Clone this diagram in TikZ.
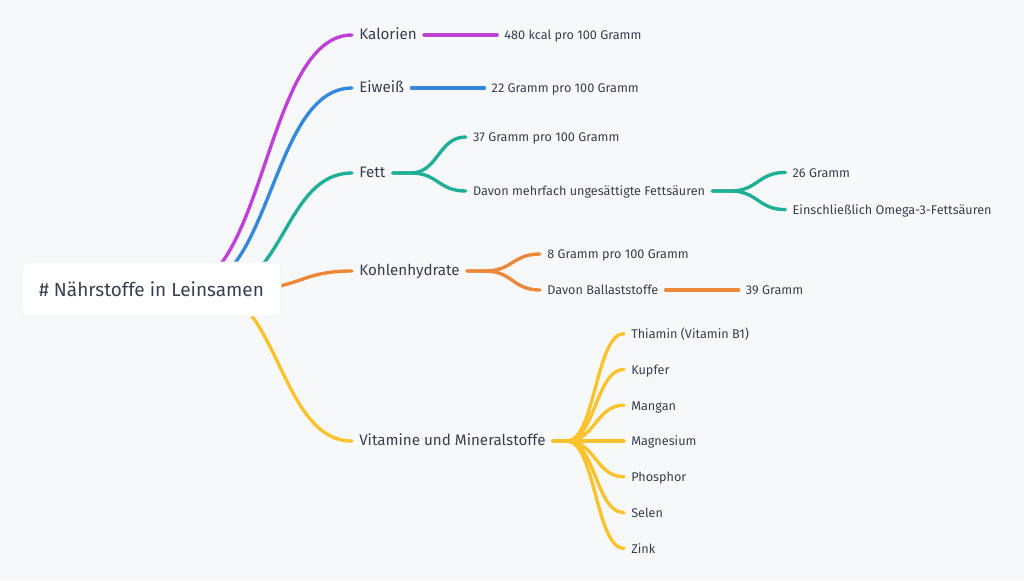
\documentclass[tikz,border=0pt]{standalone}
\usepackage{fontspec}
\setmainfont{Fira Sans}
\usepackage{xcolor}
\usepackage{tikz}
\usetikzlibrary{positioning, calc, backgrounds}
\definecolor{cbg}{RGB}{247,248,250}
\definecolor{ctext}{RGB}{55,64,78}
\definecolor{cborder}{RGB}{236,238,241}
\definecolor{cmagenta}{RGB}{191,64,214}
\definecolor{cblue}{RGB}{52,137,219}
\definecolor{cteal}{RGB}{32,175,150}
\definecolor{corange}{RGB}{237,135,58}
\definecolor{cyellow}{RGB}{250,195,45}

\begin{document}
\begin{tikzpicture}[
    x=0.025cm, y=-0.025cm,
    branch/.style={line width=2.4pt, line cap=round},
    topic/.style={text=ctext, font=\fontsize{10.8}{13}\selectfont, inner xsep=0.175cm, inner ysep=0pt, text height=0.9em, text depth=0.2em},
    leaf/.style={text=ctext, font=\fontsize{9}{11}\selectfont, inner xsep=0.175cm, inner ysep=0pt, text height=0.9em, text depth=0.2em},
    rootbox/.style={fill=white, draw=cborder, line width=0.5pt, rounded corners=4pt, minimum width=6.475cm, minimum height=1.35cm, text=ctext, font=\fontsize{13.5}{16}\selectfont},
]
    % central topic
    \node[rootbox] (root) at (151.5,289) {\# Nährstoffe in Leinsamen};

    % main branches
    \node[topic, anchor=west] (kal) at (352,35) {Kalorien};
    \node[topic, anchor=west] (eiw) at (352,88) {Eiweiß};
    \node[topic, anchor=west] (fett) at (352,173) {Fett};
    \node[topic, anchor=west] (kh) at (352,271) {Kohlenhydrate};
    \node[topic, anchor=west] (vit) at (352,441) {Vitamine und Mineralstoffe};

    % details
    \node[leaf, right=1.825cm of kal] (kal1) {480 kcal pro 100 Gramm};
    \node[leaf, right=1.825cm of eiw] (eiw1) {22 Gramm pro 100 Gramm};
    \node[leaf, right=1.825cm of fett, yshift=0.9cm] (fett1) {37 Gramm pro 100 Gramm};
    \node[leaf, right=1.825cm of fett, yshift=-0.45cm] (fett2) {Davon mehrfach ungesättigte Fettsäuren};
    \node[leaf, right=1.825cm of fett2, yshift=0.465cm] (fett21) {26 Gramm};
    \node[leaf, right=1.825cm of fett2, yshift=-0.465cm] (fett22) {Einschließlich Omega-3-Fettsäuren};
    \node[leaf, right=1.825cm of kh, yshift=0.425cm] (kh1) {8 Gramm pro 100 Gramm};
    \node[leaf, right=1.825cm of kh, yshift=-0.475cm] (kh2) {Davon Ballaststoffe};
    \node[leaf, right=1.825cm of kh2] (kh21) {39 Gramm};
    \foreach \mineral [count=\i] in {{Thiamin (Vitamin B1)}, Kupfer, Mangan, Magnesium, Phosphor, Selen, Zink}
        \node[leaf, right=1.775cm of vit, yshift={(4-\i)*0.895cm}] (vit\i) {\mineral};

    \begin{scope}[on background layer]
        \fill[cbg] (0,0) rectangle (1024,580);

        % from the centre
        \draw[branch, cmagenta] (root.center) ++(27.5,0) .. controls +(86.5,0) and +(-86.5,0) .. (kal.west);
        \draw[branch, cblue] (root.center) ++(39.5,0) .. controls +(80.5,0) and +(-80.5,0) .. (eiw.west);
        \draw[branch, cteal] (root.center) ++(65.5,0) .. controls +(67.5,0) and +(-67.5,0) .. (fett.west);
        \draw[branch, corange] (root.center) ++(96.5,0) .. controls +(52,0) and +(-52,0) .. (kh.west);
        \draw[branch, cyellow] (root.center) ++(54.5,0) .. controls +(73,0) and +(-73,0) .. (vit.west);

        % second level
        \draw[branch, cmagenta] (kal) -- (kal1);
        \draw[branch, cblue] (eiw) -- (eiw1);
        \draw[branch, cteal] (fett.east) -- ++(18,0) .. controls +(27.5,0) and +(-27.5,0) .. (fett1.west);
        \draw[branch, cteal] (fett.east) -- ++(18,0) .. controls +(27.5,0) and +(-27.5,0) .. (fett2.west);
        \draw[branch, cteal] (fett2.east) -- ++(18,0) .. controls +(27.5,0) and +(-27.5,0) .. (fett21.west);
        \draw[branch, cteal] (fett2.east) -- ++(18,0) .. controls +(27.5,0) and +(-27.5,0) .. (fett22.west);
        \draw[branch, corange] (kh.east) -- ++(18,0) .. controls +(27.5,0) and +(-27.5,0) .. (kh1.west);
        \draw[branch, corange] (kh.east) -- ++(18,0) .. controls +(27.5,0) and +(-27.5,0) .. (kh2.west);
        \draw[branch, corange] (kh2) -- (kh21);
        \foreach \i in {1,...,7}
            \draw[branch, cyellow] (vit.east) -- ++(14,0) .. controls +(28,0) and +(-28,0) .. (vit\i.west);
    \end{scope}
\end{tikzpicture}
\end{document}
